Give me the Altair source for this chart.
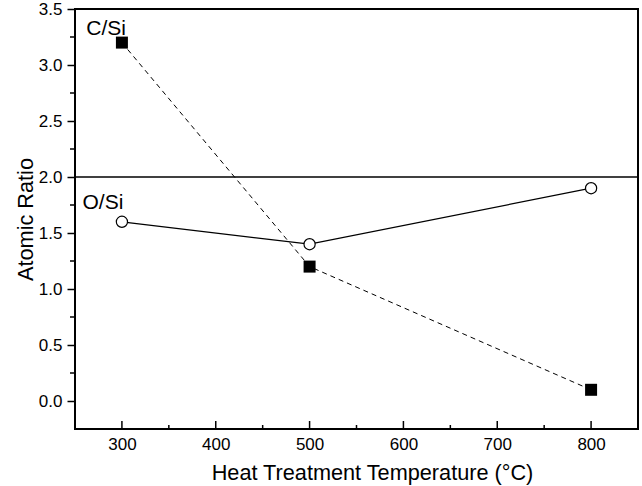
import altair as alt
import pandas as pd

# Heat treatment temperature (°C) and measured atomic ratios
temps = [300, 500, 800]
c_si = [3.2, 1.2, 0.1]
o_si = [1.6, 1.4, 1.9]

# Axis tick positions
x_major = [300, 400, 500, 600, 700, 800]
x_minor = [350, 450, 550, 650, 750]
y_major = [0.0, 0.5, 1.0, 1.5, 2.0, 2.5, 3.0, 3.5]
y_minor = [0.25, 0.75, 1.25, 1.75, 2.25, 2.75, 3.25]

# Horizontal reference level
ref_level = [2.0]

# Series labels placed in data coordinates
label_text = ["C/Si", "O/Si"]
label_x = [262, 258]
label_y = [3.32, 1.765]

W, H = 563, 420
FONT = "Liberation Sans"

xs = alt.Scale(domain=[250, 850], nice=False, zero=False)
ys = alt.Scale(domain=[-0.25, 3.5], nice=False, zero=False)

x_axis = alt.Axis(
    values=x_major, format="d", title="Heat Treatment Temperature (°C)",
    domain=False, ticks=False, tickSize=0, grid=False,
    labelPadding=7, titlePadding=10, titleX=297, titleAlign="center",
    labelFont=FONT, titleFont=FONT, labelFontSize=17, titleFontSize=21.7,
    labelColor="black", titleColor="black", titleFontWeight="normal",
)
y_axis = alt.Axis(
    values=y_major, format=".1f", title="Atomic Ratio",
    domain=False, ticks=True, tickSize=8, tickWidth=1.5, tickColor="black",
    grid=False, labelPadding=5, titlePadding=1,
    labelFont=FONT, titleFont=FONT, labelFontSize=17, titleFontSize=21.7,
    labelColor="black", titleColor="black", titleFontWeight="normal",
)


def xenc(field):
    return alt.X(f"{field}:Q", scale=xs, axis=x_axis)


def yenc(field):
    return alt.Y(f"{field}:Q", scale=ys, axis=y_axis)


df_c = pd.DataFrame({"T": temps, "ratio": c_si})
df_o = pd.DataFrame({"T": temps, "ratio": o_si})
df_lab = pd.DataFrame({"T": label_x, "ratio": label_y, "label": label_text})

ref = alt.Chart(pd.DataFrame({"ratio": ref_level})).mark_rule(
    color="black", strokeWidth=1.5
).encode(y=yenc("ratio"))

c_line = alt.Chart(df_c).mark_line(
    color="black", strokeWidth=1, strokeDash=[5, 4]
).encode(x=xenc("T"), y=yenc("ratio"))

o_line = alt.Chart(df_o).mark_line(
    color="black", strokeWidth=1.2
).encode(x=xenc("T"), y=yenc("ratio"))

c_pts = alt.Chart(df_c).mark_point(
    shape="square", filled=True, color="black", size=144, opacity=1
).encode(x=xenc("T"), y=yenc("ratio"))

o_pts = alt.Chart(df_o).mark_point(
    shape="circle", fill="white", stroke="black", strokeWidth=1.2,
    size=125, opacity=1, fillOpacity=1
).encode(x=xenc("T"), y=yenc("ratio"))

labels = alt.Chart(df_lab).mark_text(
    align="left", baseline="middle", font=FONT, fontSize=21, color="black"
).encode(x=xenc("T"), y=yenc("ratio"), text="label:N")

# Inward ticks along the bottom edge
x_major_ticks = alt.Chart(pd.DataFrame({"T": x_major})).mark_rule(
    color="black", strokeWidth=1.5
).encode(x=xenc("T"), y=alt.value(H), y2=alt.value(H - 8))

x_minor_ticks = alt.Chart(pd.DataFrame({"T": x_minor})).mark_rule(
    color="black", strokeWidth=1.5
).encode(x=xenc("T"), y=alt.value(H), y2=alt.value(H - 4))

# Outward minor ticks on the left edge
y_minor_ticks = alt.Chart(pd.DataFrame({"ratio": y_minor})).mark_rule(
    color="black", strokeWidth=1.5
).encode(y=yenc("ratio"), x=alt.value(-5), x2=alt.value(0))

chart = alt.layer(
    ref, c_line, o_line, c_pts, o_pts, labels,
    x_major_ticks, x_minor_ticks, y_minor_ticks,
).properties(
    width=W, height=H,
    autosize=alt.AutoSizeParams(type="none"),
    padding={"left": 75, "top": 9, "right": 4, "bottom": 57},
    background="white",
).configure_view(
    stroke="black", strokeWidth=2
)

chart.save("out.html", embed_options={"renderer": "svg", "actions": False})
